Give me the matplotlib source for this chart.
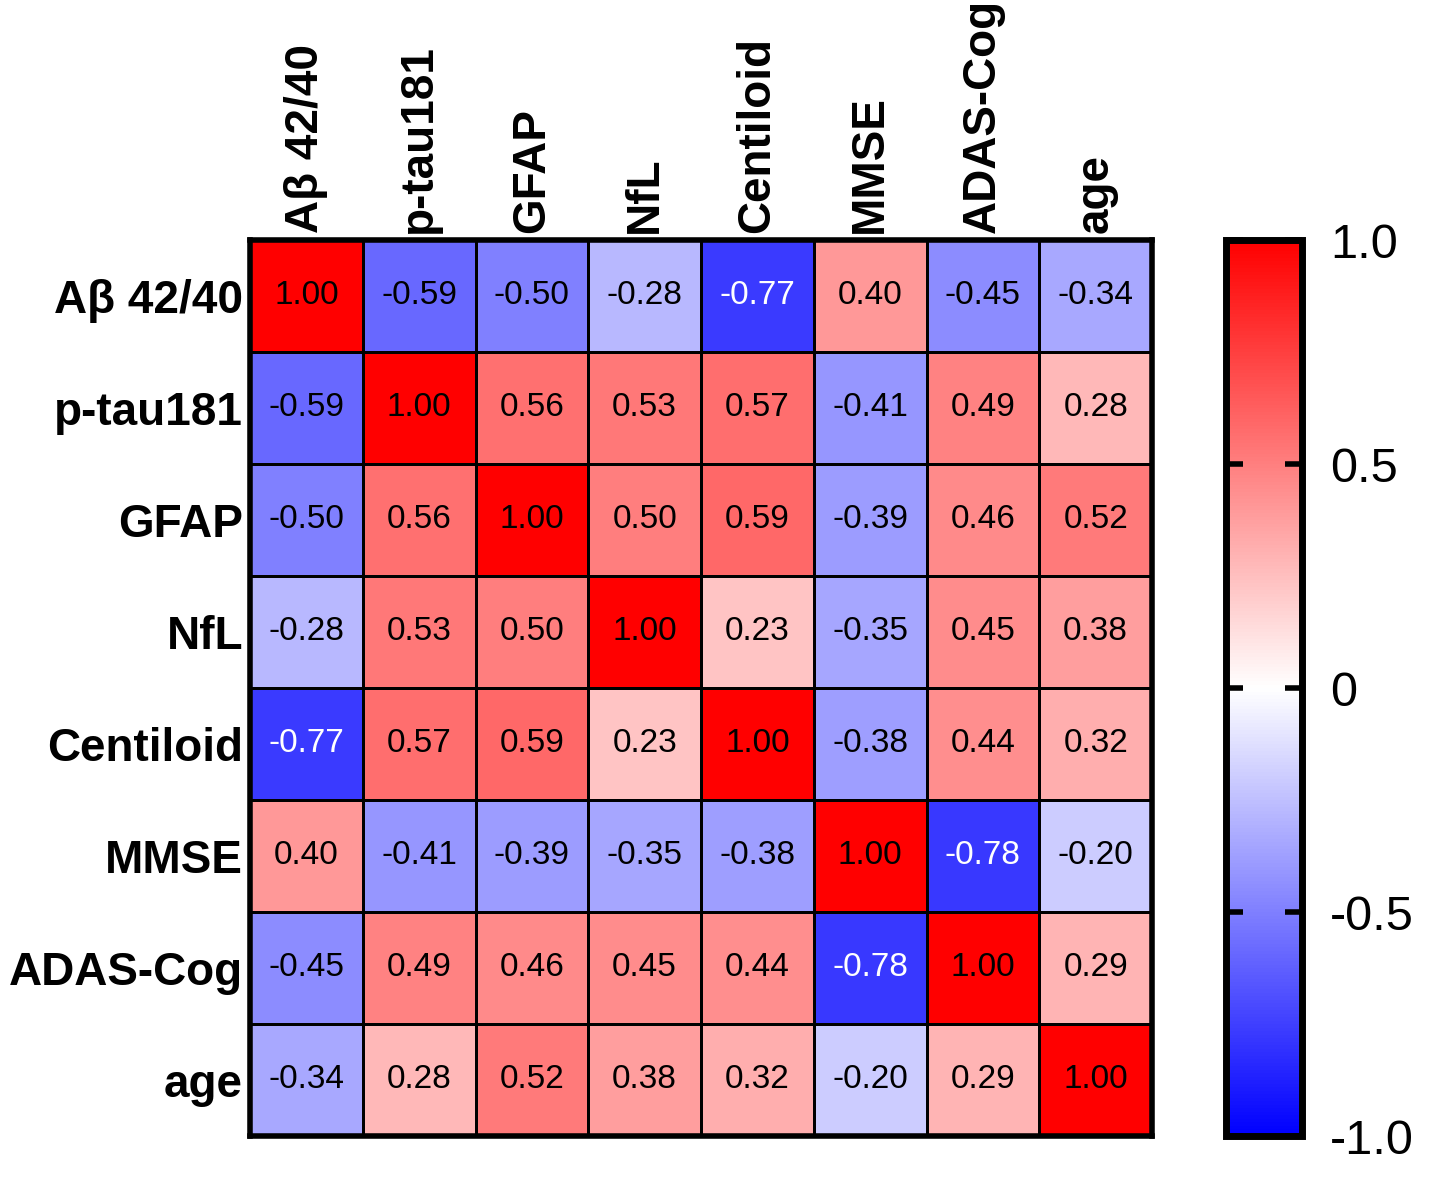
import numpy as np
import matplotlib
matplotlib.use("Agg")
import matplotlib.pyplot as plt

plt.rcParams['font.family'] = ['Liberation Sans', 'DejaVu Sans']

labels = ["Aβ 42/40", "p-tau181", "GFAP", "NfL", "Centiloid", "MMSE", "ADAS-Cog", "age"]
corr = np.array([
  [ 1.00, -0.59, -0.50, -0.28, -0.77,  0.40, -0.45, -0.34],
  [-0.59,  1.00,  0.56,  0.53,  0.57, -0.41,  0.49,  0.28],
  [-0.50,  0.56,  1.00,  0.50,  0.59, -0.39,  0.46,  0.52],
  [-0.28,  0.53,  0.50,  1.00,  0.23, -0.35,  0.45,  0.38],
  [-0.77,  0.57,  0.59,  0.23,  1.00, -0.38,  0.44,  0.32],
  [ 0.40, -0.41, -0.39, -0.35, -0.38,  1.00, -0.78, -0.20],
  [-0.45,  0.49,  0.46,  0.45,  0.44, -0.78,  1.00,  0.29],
  [-0.34,  0.28,  0.52,  0.38,  0.32, -0.20,  0.29,  1.00],
])
cbar_ticks = [-1.0, -0.5, 0, 0.5, 1.0]
cbar_ticklabels = ["-1.0", "-0.5", "0", "0.5", "1.0"]

W, H = 1441, 1187
fig = plt.figure(figsize=(W/100, H/100), dpi=100)
ax = fig.add_axes([250/W, 1-1136/H, 902/W, 896/H])
cax = fig.add_axes([1226/W, 1-1136/H, 76/W, 896/H])

n = len(labels)
mesh = ax.pcolormesh(np.arange(n+1), np.arange(n+1), corr, cmap="bwr",
                     vmin=-1, vmax=1, edgecolors="black", linewidth=2)
ax.set_xlim(0, n)
ax.set_ylim(n, 0)
for i in range(n):
  for j in range(n):
    v = corr[i, j]
    ax.text(j+0.5, i+0.5, f"{v:.2f}", ha="center", va="center",
            fontsize=24, color="white" if v < -0.7 else "black")

ax.set_xticks(np.arange(n)+0.5)
ax.set_yticks(np.arange(n)+0.5)
ax.xaxis.tick_top()
ax.set_xticklabels(labels, rotation=90, fontsize=33, fontweight="bold")
ax.set_yticklabels(labels, fontsize=33, fontweight="bold")
ax.tick_params(length=0, pad=5)
for s in ax.spines.values():
  s.set_linewidth(4)

cb = fig.colorbar(mesh, cax=cax, ticks=cbar_ticks)
cb.ax.set_yticklabels(cbar_ticklabels)
cb.ax.tick_params(labelsize=35, direction="in", length=12, width=4, pad=20,
                  left=True, right=True)
cb.outline.set_linewidth(5)

fig.savefig("out.png", dpi=100)
